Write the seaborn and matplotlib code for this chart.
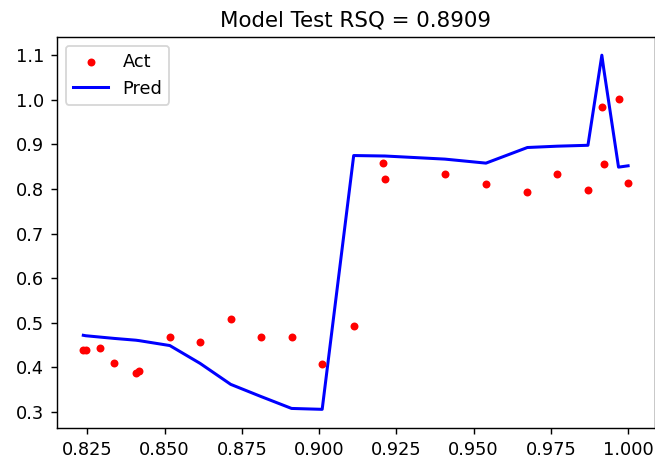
import matplotlib
matplotlib.use("Agg")
import matplotlib.pyplot as plt
import seaborn as sns
import pandas as pd

# Test-set inputs (sorted), observed targets and model predictions
x_test = [0.8237, 0.8245, 0.8291, 0.8337, 0.8407, 0.8418, 0.8517, 0.8615,
          0.8714, 0.8811, 0.8911, 0.9010, 0.9112, 0.9208, 0.9212, 0.9407,
          0.9540, 0.9674, 0.9771, 0.9870, 0.9915, 0.9921, 0.9969, 1.0000]
y_act = [0.439, 0.439, 0.444, 0.411, 0.387, 0.392, 0.468, 0.456,
         0.508, 0.468, 0.468, 0.408, 0.492, 0.858, 0.822, 0.834,
         0.811, 0.794, 0.834, 0.797, 0.983, 0.855, 1.002, 0.813]
y_pred = [0.472, 0.471, 0.468, 0.465, 0.461, 0.460, 0.449, 0.409,
          0.362, 0.335, 0.308, 0.306, 0.875, 0.874, 0.874, 0.867,
          0.858, 0.893, 0.896, 0.898, 1.100, 1.070, 0.849, 0.852]
rsq = 0.8909

df = pd.DataFrame({"x": x_test, "act": y_act, "pred": y_pred})

dpi = 128
fig = plt.figure(figsize=(655 / dpi, 459 / dpi), dpi=dpi)
ax = fig.add_axes([0.0866, 0.0669, 0.9134, 0.8532])

sns.scatterplot(data=df, x="x", y="act", color="red", marker="o", s=20,
                linewidth=0, label="Act", ax=ax, zorder=3)
sns.lineplot(data=df, x="x", y="pred", color="blue", linewidth=1.7,
             sort=False, estimator=None, label="Pred", ax=ax)

ax.set_xlim(0.8151, 1.0087)
ax.set_ylim(0.2635, 1.1415)
ax.set_xticks([0.825, 0.850, 0.875, 0.900, 0.925, 0.950, 0.975, 1.000])
ax.set_xticklabels(["0.825", "0.850", "0.875", "0.900", "0.925", "0.950", "0.975", "1.000"])
ax.set_yticks([0.3, 0.4, 0.5, 0.6, 0.7, 0.8, 0.9, 1.0, 1.1])
ax.set_xlabel("")
ax.set_ylabel("")
ax.set_title(f"Model Test RSQ = {rsq:.4f}", fontsize=12)
ax.legend(loc="upper left")

fig.savefig("out.png", dpi=dpi)
